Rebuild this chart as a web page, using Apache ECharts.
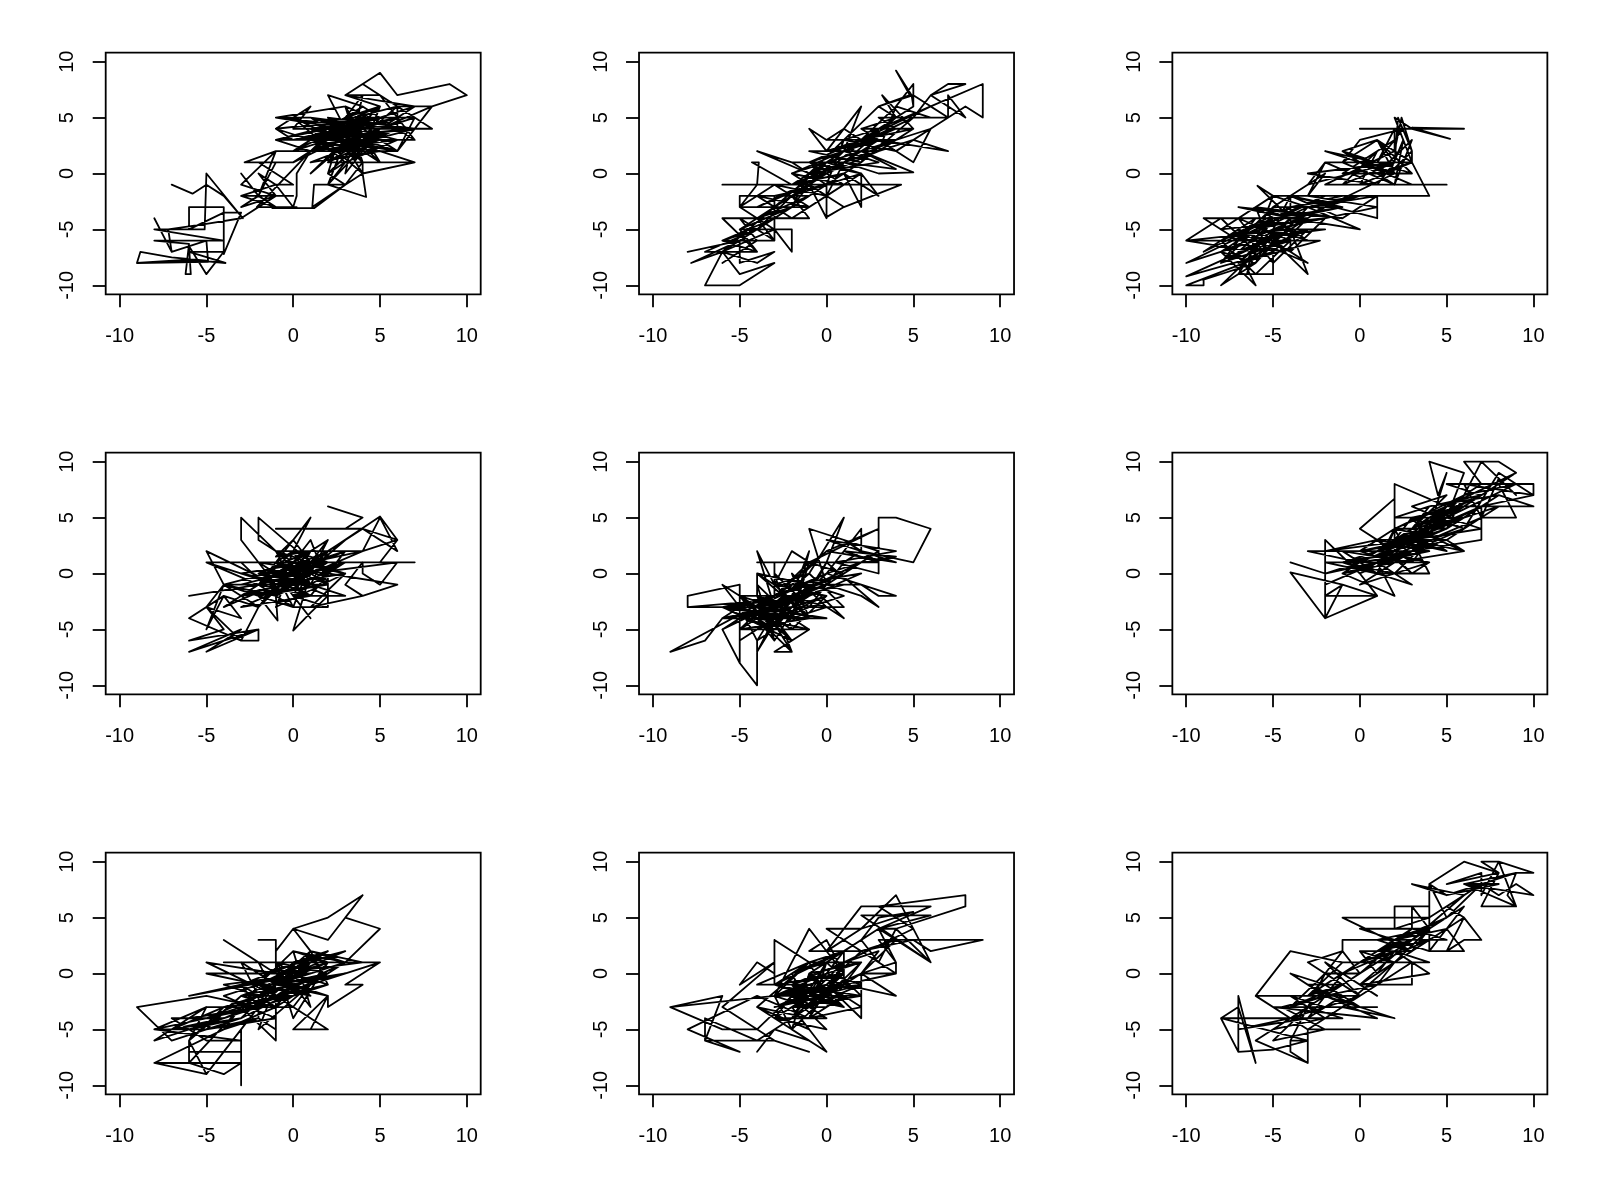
<!DOCTYPE html>
<html><head><meta charset="utf-8">
<script src="https://cdn.jsdelivr.net/npm/echarts@6/dist/echarts.min.js"></script>
<style>html,body{margin:0;padding:0;background:#fff}#c{width:1600px;height:1200px}</style></head>
<body><div id="c"></div>
<script>
const tickValues = [-10,-5,0,5,10];
const panel1 = [[-7,-1],[-5.8,-1.8],[-5,-1],[-4,-2],[-2.9,-4],[-5,0],[-5.1,-5],[-5,-5],[-6,-5],[-6,-3],[-4,-3],[-4,-6],[-4,-7.2],[-3,-3.5],[-4,-3.5],[-6,-5],[-8,-5],[-4,-6],[-8,-6],[-6,-6.3],[-6.2,-9],[-5.9,-9],[-6,-6.5],[-5,-9],[-4,-7],[-6,-7],[-3.9,-8],[-6,-7.7],[-9,-8],[-8.8,-7],[-7,-7.5],[-5,-7.8],[-9,-8],[-4.9,-7.9],[-5,-6],[-7,-7],[-8,-4],[-7,-7],[-7.2,-5],[-5,-4.5],[-3,-4],[-1,-2],[-3,-3],[-2,-2],[-3,-2],[-1,-3],[-2,-2],[-3,0],[-2,-2],[-1.9,-2.1],[-1,1],[-2.8,1],[-1,2],[-2,-2],[-1,1],[0,1],[-2,1],[0,-1],[-1,-1],[0,-3],[0.2,-2],[0.2,0],[1,2],[-2.1,-3],[0.2,-3],[-1.2,-3.1],[1.2,-3.1],[3,-1],[1.2,-1],[1.1,-3],[3,-1],[4,0],[4.2,-2.1],[2,-1],[3,1],[2,0],[3,-1],[4,1],[7,1],[4,0],[4,1],[3,3],[7,1],[2,1],[3,2],[5,3],[1,5],[-1,5],[3,4],[0,3],[-1,4],[1,6],[0,4],[4,4],[1,2],[6,3],[3,1],[5,5],[1,3],[4,2],[0,5],[4,3],[2,2],[6,4],[1,1],[5,2],[2,5],[4,1],[2,4],[5,3],[1,2],[3,5],[6,2],[7,5],[3,3],[7,3],[4,6],[2,7],[4,1],[3,6],[5,1],[3,4],[8,4],[5,7],[7,3],[2,3],[6,5],[4,3],[7,6],[3,7],[5,7],[4,8],[3,7],[5,6],[4,2],[3,4],[7,6],[5,4],[8,6],[6,2],[7,5],[5,7],[4,8],[5,9],[6,7],[9,8],[10,7],[8,6],[6,6],[6,4],[1,5],[6,3],[0,3],[5,5],[-1,4],[3,2],[6,6],[1,4],[4,0],[2,5],[7,4],[1,3],[5,2],[0,2],[4,5],[2,1],[6,4],[3,6],[-1,5],[5,4],[2,2],[7,4],[0,3],[4,4],[1,0],[3,3],[5,6],[2,3],[6,2],[4,2],[0,5],[3,1],[5,5],[-1,3],[4,3],[2,0],[3,5],[7,5],[1,2],[4,6],[2,4],[6,2],[3,3],[5,1],[1,5],[4,4],[0,1],[3,4],[6,5],[2,3],[4,7],[3,0],[5,4],[2,-1],[3,3],[1,2],[-1,3],[4,5],[2,4],[5,6],[3,5],[0,2],[4,4],[1,3],[5,3],[2,2],[4,5],[3,2],[-1,2],[-3,-1],[-1,-2],[-2,0],[-1,-1],[-3,-2],[0,-2]];
const panel2 = [[-8,-7],[-5,-6],[-7.8,-8],[-6,-7],[-7,-10],[-5.4,-10],[-5,-10],[-3,-8],[-5,-9],[-6,-7],[-4,-8],[-3,-7],[-5,-8],[-5,-6],[-6,-7],[-5,-7],[-6,-8],[-4,-6],[-5,-4],[-6,-4],[-4,-7],[-5,-5],[-3,-5],[-2,-5],[-2,-7],[-3,-5],[-5,-3],[-3,-3],[-2,-4],[-4,-4],[-3,-6],[-3,-2],[-5,-2],[-5,-3],[-3,-1],[-1,-3],[-5,-3],[-4,-1],[-3.9,1],[-4.3,1],[-2,-1],[-6,-1],[0,-1],[4.3,-1],[1,-3],[-1,-1],[-2,-3],[-1,0],[-4,2],[-2,1],[0,-1],[-2,-2],[-1,-4],[-2,-4],[0,-2],[0,-4],[-1,-1],[1,-3],[0,-3.9],[0,-1],[-2,1],[1,1],[0,-2],[2,0],[3,-2],[1,0],[2,-3],[2,0],[0,1],[-1,-1],[1,2],[3,1],[-1,0],[1,3],[0,-1],[2,1],[-1,2],[2,2],[0,0],[3,2],[1,4],[0,3],[-1,4],[0,2],[2,6],[1,2],[3,3],[0,3],[4,3],[1,1],[3,0],[5,0.1],[2,2],[4,0.4],[1,1],[5,3],[7,2],[3,3],[2,4],[5,1],[6,4],[4,2],[1,3],[3,6],[4,5],[3.2,7],[5,4],[2,3],[4,4],[3,5],[6,5],[4,6],[5,8],[5,6],[4.9,7],[4,9.2],[4.8,7],[3,6],[5,7],[7,5],[5,5],[6,7],[8,8],[7,8],[6,7],[8,5],[7,7],[7,5],[6,6],[9,8],[9,5],[8,6],[6,4],[2,2],[4,3],[0,1],[3,4],[-1,-1],[2,2],[-2,-2],[1,1],[-3,-3],[0,0],[-4,-3],[-1,-1],[-5,-5],[-2,-2],[-4,-5],[-1,-2],[-3,-4],[1,0],[-2,-1],[2,3],[-1,0],[3,2],[0,2],[4,4],[1,2],[5,5],[2,1],[3,4],[1,3],[0,-1],[2,0],[-1,1],[1,-1],[-2,0],[0,-2],[-3,-1],[-1,-3],[-4,-2],[-2,-4],[-5,-4],[-3,-6],[-6,-6],[-4,-5],[-7,-7],[-4,-7],[-6,-6],[-3,-4],[-5,-6],[-2,-3],[-4,-4],[-1,-1],[-3,-3],[0,1],[-2,0],[1,2],[-1,1],[2,3],[0,2],[3,3],[1,1],[4,5],[2,4],[5,4],[3,2],[4,6],[2,3],[6,6],[3,4],[5,6],[1,2],[-1,0],[1,1],[-2,-1],[0,-1],[-3,-2],[-1,-2],[-4,-4],[-2,-3],[-5,-5],[-3,-5],[-6,-7],[-3,-3],[0,0]];
const panel3 = [[0,4],[6,4],[3,4.1],[5.2,3.1],[3,4],[2,5],[3,1],[1,3],[2,1],[2.2,5],[3,2],[3,1],[2,2],[2,4],[1,1],[2.5,4],[0,3],[-1,1],[1,3],[-1,2],[2,0],[-2,2],[1,1],[3,0],[-1,0],[2,3],[0,1],[-2,1],[1,-1],[2,1],[-3,0],[1,-1],[5,-1],[2,-1],[-1,1],[3,1],[4,-2],[-4,-2],[1,-2],[-1,-4],[-4,-2],[1,-4],[1,-2],[-3,-3],[0,-5],[-4,-4],[-1,-3],[-5,-3],[-2,0],[-3,-2],[-5,-2],[-5.9,-1.1],[-4,-4],[-7,-3],[-1,-4],[-6,-3],[-5,-7],[-3,-4],[-9,-4],[-7,-6],[-3,-3],[-6,-8],[-4,-2],[-4,-7],[-2,-4],[-8,-5],[-5,-2],[-6,-6],[-3,-8],[-5,-6],[-3,-9],[-4,-5],[-10,-6],[-8,-4],[-6,-7],[-10,-6],[-6,-6],[-3,-5],[-7,-8],[-2.3,-6],[-6,-6],[-10,-8],[-6,-5],[-8,-8],[-4,-5],[-10,-9.2],[-5,-7],[-10,-10],[-9,-10],[-9,-9.5],[-6,-8],[-8,-10],[-7,-8.5],[-4,-5],[-7,-7],[-6,-10],[-8,-7],[-5,-4],[-7,-9],[-5,-9],[-5,-7],[-7,-5],[-4,-7],[-3,-8],[-6,-5],[-6.5,-9],[-5,-3],[-7,-6],[-2,-5],[-5,-5],[1,-3],[-3,-2],[-2,1],[-3,-1],[2,1],[-1,-1],[1,2],[0,-1],[3,1],[1,0],[3,3],[2,-1],[2.5,3],[1.7,0],[3,2],[2.4,5],[2,2],[-2,-1],[3,-1],[0,1],[2,-1],[-1,2],[3,0],[1,3],[2,0],[-2,-3],[0,-2],[-4,-2],[-1,-3],[-5,-4],[-2,-2],[-6,-5],[-3,-4],[-7,-7],[-4,-3],[-8,-6],[-5,-4],[-9,-7],[-6,-4],[-8,-8],[-4,-6],[-7,-4],[-5,-8],[-3,-5],[-6,-7],[-4,-4],[-7,-8],[-5,-5],[-8,-7],[-6,-8],[-4,-4],[-6,-3],[-3,-6],[-5,-5],[-2,-3],[-5,-6],[-8,-6],[-6,-9],[-4,-6],[-7,-6],[-3,-3],[-5,-2],[-3,-2],[-1,-2],[-4,-3],[0,-2],[-3,-3]];
const panel4 = [[2,6],[4,5],[3,4],[1,4],[-1,4],[4,4],[2,2],[5,5.1],[6,3],[4,4],[6,2],[5,5],[4,2],[6,3],[5,1],[7,1],[-5,1],[-1,-1],[-5,2],[-4,-1],[-1,-2],[-3,1],[1,1],[-5,1],[-2,-1],[-6,-2],[-2,-1],[0,-3],[-4,-1],[-5,-3],[-3,-4],[-4,-2],[-6,-4],[-3,-6],[-5,-3],[-4,-5],[-6,-6],[-2,-5],[-6,-7],[-3,-5],[-5,-7],[-2,-5],[-2,-6],[-3,-6],[-2,-3],[-4,-2],[-5,-5],[-4,-1],[-2,-3],[-1,-1],[-3,3],[-3,5],[-1,2],[1,1],[-2,5],[-2,3],[0,1],[2,-1],[-2,-1],[1,5],[0,2],[-1,-2],[-0.9,-4.2],[-2,-2],[1,0],[0,-5.1],[1,-3.5],[2,-2],[-1,0],[1,-4],[0,-2],[2,-3],[0,-3],[2,-3],[2,0],[-1,1],[1,-1],[0,2],[2,1],[-2,-1],[1,2],[0,-1],[-1,1],[2,0],[1,-2],[-2,0],[0,0],[-1,-2],[1,1],[0,-2],[3,-2],[1,-1],[2,2],[-1,0],[1,-1],[3,1],[0,1],[2,3],[1,0],[4,2],[-1,2],[4,2],[1,1],[3,0],[1,-3],[4,-2],[6,-1],[2,0],[6,-1],[4,-2],[3,-1],[4,1],[4,0],[5,-1],[6,1],[1,0],[2,3],[0,-1],[3,3],[1,1],[0,3],[-1,1.5],[1,2],[3,2],[0,0],[2,2],[-1,-1],[1,3],[2,-1],[-2,-2],[1,0],[-1,1],[2,-1],[0,2],[-2,-1],[3,1],[-1,-2],[1,1],[-3,0],[0,-1],[2,1],[-2,0],[1,2],[-1,-1],[3,0],[0,1],[-3,-2],[2,0],[-2,1],[1,-2],[3,2],[-1,0],[0,-3],[1,1],[-2,-2],[2,2],[0,-1],[-1,2],[1,-1],[-3,-1],[2,1],[0,0],[-2,-3],[1,2],[-1,-1],[3,1],[0,-2],[2,0],[-1,1],[0,2],[1,-1],[-2,0],[1,0],[-1,-2],[2,1],[0,1],[-1,-3],[3,0],[1,1],[-4,-1],[0,-1],[-3,-3],[1,-2],[-2,-1],[-4,-3],[-1,-1],[-3,-2],[2,-1],[-2,-2],[1,1],[0,0]];
const panel5 = [[-8,-3],[-8,-2],[-5,-1],[-5,-3],[-8,-3],[-5,-2.6],[-4,-3],[-6,-1],[-5,-3],[-3,-2],[-9,-7],[-7,-6],[-6,-4],[-5,-3],[-6,-4],[0,-4],[-4,-3],[-6,-5],[-5,-8],[-5,-3],[-4,-6],[-4,-10],[-5,-8],[-6,-5],[-3,-2],[-6,-3],[-2,-6],[-5,-2],[-3,-6],[-4,-2],[-2,-7],[-3,-7],[-1,-5],[-3,-3],[-2,-7],[-4,-4],[-1,-5],[-5,-5],[-2,-2],[-1,-4],[-4,-2],[-2,-6],[-4,-3],[-1,-2],[-6,-3],[-1,-4],[-4,0],[-4,-2],[-3,-4],[-1,-1],[-4,0],[-3,-1],[-3,1],[-3,-3],[-4,2],[-3,-1],[-2,2],[-1,1],[-4,1],[2,1],[-2,-2],[-1,2],[-2,-4],[-1,1],[-3,-2],[0,2],[-2,-1],[1,-1],[-4,-3],[0,0],[-2,-3],[1,-3],[-1,0],[1,5],[0,1],[-2,-4],[0,-3],[1,-4],[-1,-1],[1,-2],[-1,-3],[1,1],[0,-1],[-1,4],[3,2],[0,-1],[2,-2],[3,-3],[0,1],[-1,-2],[2,0],[-2,-1],[1,-1],[2,-1],[3,-2],[4,-2],[2,-1],[0,0],[2,4],[2,2],[1,1],[3,1],[-1,1],[3,4],[0,2],[4,1],[0,3],[4,2],[0.5,1],[3,0],[3,5],[4,5],[6,4],[5,1],[2,2],[1,3],[3,1],[1,2],[4,1.5],[2,1],[0,0],[-3,-2],[-5,-4],[-2,-3],[-6,-4],[-3,-3],[-5,-2],[-2,-5],[-4,-5],[-1,-3],[-5,-3],[-3,-5],[-6,-3],[-2,-4],[-4,-2],[-1,-4],[-5,-5],[-3,-2],[-6,-5],[-2,-2],[-4,-4],[0,-2],[-3,-4],[-5,-3],[-1,-1],[-3,-6],[-4,-1],[-2,-4],[-4,-6],[-2,-1],[-5,-4],[-1,-2],[-3,-3],[0,-1],[-4,-3],[-1,-3],[-3,0],[-2,-5],[0,-2],[-3,-1],[-1,0],[-4,-4],[-2,-2],[-5,-2],[-3,-5],[-1,-1],[-3,-1],[-1,-4],[-2,0],[0,-3],[-2,-2],[1,0],[-1,1],[-3,-2],[-1,-2],[-4,-5],[-2,-3],[-5,-6],[-3,-4],[-4,-7],[-2,-2]];
const panel6 = [[-4,1],[-2,0],[-2,-4],[-1,-1],[1,-2],[-2,-2],[-1,-1],[-4,0.1],[-2,-4],[1,-2],[0,0],[-2,3],[-2,-1],[1,1],[-2,0],[0,1],[-3,2],[-1,2],[1,0],[-2,1],[2,1],[-1,0],[2,-2],[1,1],[3,-1],[-1,1],[2,2],[0,4],[2,6.7],[0,4],[1,3],[-2,2],[3,3],[0,1],[4,1],[2,0],[4,3],[1,0],[4,0],[3,3],[0,2],[4,2],[1,1],[2,4],[1,0],[3,0],[1.5,2],[4,4],[2,2],[2,8],[5,6],[2,3],[5,2],[4,3],[2,1],[6,2],[3,4],[1,2],[5,5],[3,2],[7,3],[7,6],[5,4],[3,3],[6,5],[2,5],[4,6],[3,4],[5,7],[3,6],[6,4],[4,5],[2,3],[6,6],[4,4],[5,9],[4.5,7],[4,10],[6,9],[5,5],[7,7],[4,6],[8,7],[6,5],[8,6],[7,5],[9,5],[8,8],[6,6],[9,9],[5,6],[7,8],[6,10],[8,10],[9,9],[7,7],[5,8],[10,8],[10,7],[7,6],[10,6],[8,7],[5,4],[7,10],[9,7],[8,8.5],[7,5],[6,8],[10,7],[8,9],[6,4],[5,3],[6,2],[3,3],[5,2],[4,3],[1,3],[3,0],[4,1],[1,2],[4,2],[2,3],[3,5],[4,3],[3,1],[2,4],[0,2],[2,1],[-1,1],[3,2],[0,0],[2,2],[-1,2],[3,1],[1,3],[4,2],[0,1],[3,4],[1,1],[5,3],[2,3],[6,5],[3,3],[7,6],[4,4],[8,8],[5,5],[9,8],[6,7],[3,4],[7,7],[4,5],[2,2],[6,6],[3,5],[5,4],[1,2],[4,4],[2,4],[5,6],[3,2],[6,4],[4,3],[7,5],[5,3],[2,4],[6,7],[4,4],[8,6],[5,6],[3,3],[7,4],[5,5],[1,1],[4,3],[0,2],[3,3],[-1,1],[2,0],[0,-1],[3,2],[-1,0],[2,3],[1,1],[4,4],[2,2],[5,4],[3,4],[6,6],[4,5],[7,7]];
const panel7 = [[4,7],[2,5],[0,4],[2,3],[4,7],[3,5],[5,4],[3,1],[1,2],[0,4],[-1,2],[-1,3],[-2,3],[-1,3],[-1,0],[-4,3],[-2,1],[-1,-2],[-5,1],[-1,0],[-5,0],[-2,-1],[1,1],[-4,1],[5,1],[1,-1],[5,1],[3,-1],[4,-1],[2,-3],[2,-2],[0,-1],[3,0],[-1,-1],[2,1],[0,-3],[2,-5],[0,-5],[2,-2],[1,-5],[2,-2],[-1,-1],[-3,1],[-2,-2],[-4,-1],[1,0],[-6,-2],[-3,-1],[-2,-3],[-5,-2],[-9,-3],[-7,-6],[-5,-5],[-8,-5],[-5,-3],[-8,-6],[-4,-4],[-7,-4],[-5,-6],[-3,-6],[-8,-5],[-2,-3],[-3,-5],[-3,-7],[-6,-7],[-6,-6],[-5,-3],[-3,-3],[-6,-8],[-6,-6],[-5,-9],[-3,-5],[-3,-10],[-3,-8],[-7,-8],[-3,-8],[-4,-9],[-6,-8],[-8,-8],[-5,-9],[-8,-8],[-4,-5],[-2,-1],[-3,-3],[-1,-6],[-1,-2],[-1,-5],[-2,-4],[-2,-2],[-1,-1],[0,1],[-2,-3],[0,-1],[-3,-2],[-1,-3],[1,2],[-2,-2],[2,2],[-3,-1],[1,0],[-2,0],[3,2],[0,0],[-1,1],[2,0],[0,-2],[3,1],[-1,-2],[2,-1],[1,2],[4,1],[-1,0],[1,1],[-2,-1],[0,2],[2,1],[0,-4],[-1,1],[1,-3],[0,2],[3,1],[-1,-1],[-3,-3],[1,-1],[-4,-4],[-1,-2],[-5,-4],[-2,-3],[-6,-5],[-3,-4],[-7,-5],[-4,-3],[-6,-6],[-3,-2],[-5,-5],[-2,-4],[-4,-5],[-1,-3],[-3,-1],[0,-1],[-2,-2],[2,0],[-1,-1],[3,1],[0,1],[2,2],[-2,-1],[1,1],[-3,-3],[0,0],[-4,-2],[-1,-4],[-5,-5],[-3,-4],[-7,-5],[-4,-4],[-6,-4],[-2,-3],[-5,-4],[-2,-2],[-4,-3],[0,-2],[-3,-2],[2,1],[-2,-1],[1,-2],[-1,0],[3,2],[0,0],[2,-1],[-2,-3],[1,1],[-1,-3],[2,0],[-3,-4],[-1,-1],[-2,-5],[1,-1],[-3,-3],[0,-3],[-2,-1]];
const panel8 = [[-9,-3],[-6,-2],[-7,-6],[-3,-6],[-1,-7],[-3,-6],[-6,-3],[-3,1],[-5,-1],[-4,1],[-3,0],[-3,3],[-3,-1],[-1,1],[-3,3],[-1,1],[-4,-3],[-1,-4],[-4,-2],[-8,-5],[-5,-7],[-7,-6],[-7,-4],[-4,-6],[-3,-5],[-4,-7],[-3,-5],[-1,-6],[-4,-3],[-1,-5],[-2,-3],[0,-7],[-2,-5],[-3,-2],[-9,-3],[-6,-5],[-4,-5],[-2,-2],[-3,-4],[0,-5],[-2,-2],[-1,-3],[1,-1],[-3,-2],[0,0],[-2,-4],[2,0],[-1,-2],[1,-3],[-3,-1],[1,0],[-2,-3],[2,-2],[-2,-1],[1,-3],[-1,-1],[-4,-1],[-1,1],[0,-2],[2,1],[-1,0],[1,2],[-2,0],[0,1],[2,-2],[-3,-2],[-1,4],[1,0],[0,3],[-1,2],[2,2],[0,-1],[2,-4],[2,0],[4,0],[1,-1],[4,-2],[2,0],[4,1],[4,0],[1,3],[0,4],[2,4],[0,2],[2,6],[5,6],[6,6],[3,4],[6,5.2],[2,5.2],[6,1],[4,7],[2,4],[5,5.5],[3,5],[2,3],[3,1],[4,4],[6,1],[3,4],[4,1],[3,3],[9,3],[6,2],[5,3],[2,2],[4,3],[2,0],[3,2],[1,1],[5,4],[3,6],[8,7],[8,6],[4,4],[3,4],[1,2],[1,-1],[2,1],[0,0],[1,2],[-1,1],[-3,-2],[0,-1],[-2,-3],[1,-2],[-1,-4],[1,1],[-2,-1],[-1,-3],[2,-1],[-3,-3],[0,-2],[-1,0],[1,-1],[-2,-2],[0,-4],[-3,-4],[-1,-2],[0,1],[-2,-4],[1,0],[-1,-1],[-3,-2],[2,-1],[0,0],[-2,-1],[1,1],[-1,-2],[-3,-3],[0,-1],[-2,-2],[1,-3],[-1,0],[-2,-5],[0,-2],[-3,-1],[1,2],[-1,1],[2,1],[0,-3],[-2,-3],[1,-1],[-3,-5],[-1,-3],[-2,0],[0,1],[-1,-4],[2,-3],[0,-1],[-2,-2],[-1,-1],[1,0],[-1,-3],[-3,-2],[0,0]];
const panel9 = [[-7,-2],[-6,-8],[-7,-3],[-8,-4],[-7,-7],[-7,-2],[-7,-7],[-5,-6.8],[-3,-6],[-8,-4],[-3,-4],[-7,-5],[-4,-4],[-5,-3],[-3,-5],[-3,-8],[-6,-6],[-4,-4],[-6,-2],[-4,2],[-1,1],[-3,-2],[-6,-2],[-2,-2],[-4.5,-3],[-2,-5],[-5,-6],[-3,-3],[-4,-6],[-3,-6],[-4,-6],[-4,-7],[-3,-8],[-3,-5],[0,-5],[-3,-5],[-1,-3],[2,-4],[-2,-2],[1,-4],[-5,-3],[1,-3],[-4,-3],[-1,-1],[-3,-1],[0,-3],[-2,-1],[-4,0],[-2,-2],[-3,-4],[-1,0],[1,-2],[-2,1],[0,-2],[-3,1],[-1,2],[-2,0],[0,0],[-1,2],[-1,3],[2,3],[0,1],[3,1],[1,-1],[3,-1],[0,-1],[4,0],[2,2],[4,1],[1,1],[3,1],[3,-1],[1,-1],[2,1],[0,2],[1,0],[3,2],[-1,5],[4,5],[2,4],[2,6],[4,6],[4,2],[2,3],[5,3],[3,4],[3,6],[4,4],[0,4],[2,3],[5,4],[4,2],[5,2],[6,3],[7,3],[6,5],[5,2],[6,2],[5,4],[6,6],[5,5],[4,8],[4,5],[6,7],[3,8],[5,7],[4,8],[6,10],[8,9],[7,10],[8,10],[10,9],[9,9],[8.5,7],[9,6],[8,10],[7,7],[7,9],[5,8],[8,9],[7,6],[9,6],[6,8],[10,7],[9,8],[8,7],[7,8],[5,6],[6,5],[4,3],[1,2],[3,3],[0,1],[2,2],[-1,0],[1,2],[-2,-1],[0,1],[-3,-2],[-1,-1],[-4,-4],[-2,-3],[-4,-2],[-2,-4],[-5,-5],[-3,-3],[-1,-4],[-3,-4],[-1,-2],[-2,-3],[0,-2],[-2,-2],[1,-1],[-1,-3],[2,1],[0,-1],[3,3],[1,1],[4,3],[2,1],[4,4],[1,3],[3,2],[1,0],[2,2],[0,0],[3,4],[1,2],[5,5],[3,3],[6,7],[4,5],[7,8],[5,7],[8,8],[6,8],[9,9],[7,8],[5,5],[2,3],[4,4],[3,2],[0,2],[2,1],[-1,1],[1,1],[-2,-2],[-4,-3],[-2,0],[-3,-3],[-1,-1]];
const allPanels = [panel1,panel2,panel3,panel4,panel5,panel6,panel7,panel8,panel9];

const grids=[],xAxes=[],yAxes=[],series=[];
const lim=10.8, lw=1.8;
allPanels.forEach((d,i)=>{
  const c=i%3,r=Math.floor(i/3);
  grids.push({left:105.7+533.33*c,top:52.7+400*r,width:375,height:241.6,show:true,borderColor:'#000',borderWidth:lw,backgroundColor:'#fff',containLabel:false});
  xAxes.push({type:'value',gridIndex:i,min:-lim,max:lim,splitLine:{show:false},axisLine:{show:false,onZero:false},
    axisTick:{show:true,length:13,lineStyle:{color:'#000',width:lw},customValues:tickValues},
    axisLabel:{show:true,color:'#000',fontFamily:'Liberation Sans',fontSize:20,margin:32,customValues:tickValues,hideOverlap:false}});
  yAxes.push({type:'value',gridIndex:i,min:-lim,max:lim,splitLine:{show:false},axisLine:{show:false,onZero:false},
    axisTick:{show:true,length:13,lineStyle:{color:'#000',width:lw},customValues:tickValues},
    axisLabel:{show:true,color:'#000',fontFamily:'Liberation Sans',fontSize:20,margin:28,rotate:90,customValues:tickValues,hideOverlap:false}});
  series.push({type:'line',xAxisIndex:i,yAxisIndex:i,data:d,showSymbol:false,symbol:'none',smooth:false,animation:false,
    lineStyle:{color:'#000',width:lw,cap:'round',join:'round'},emphasis:{disabled:true}});
});
const chart=echarts.init(document.getElementById('c'),null,{renderer:'canvas'});
chart.setOption({animation:false,backgroundColor:'#fff',grid:grids,xAxis:xAxes,yAxis:yAxes,series});
</script></body></html>
